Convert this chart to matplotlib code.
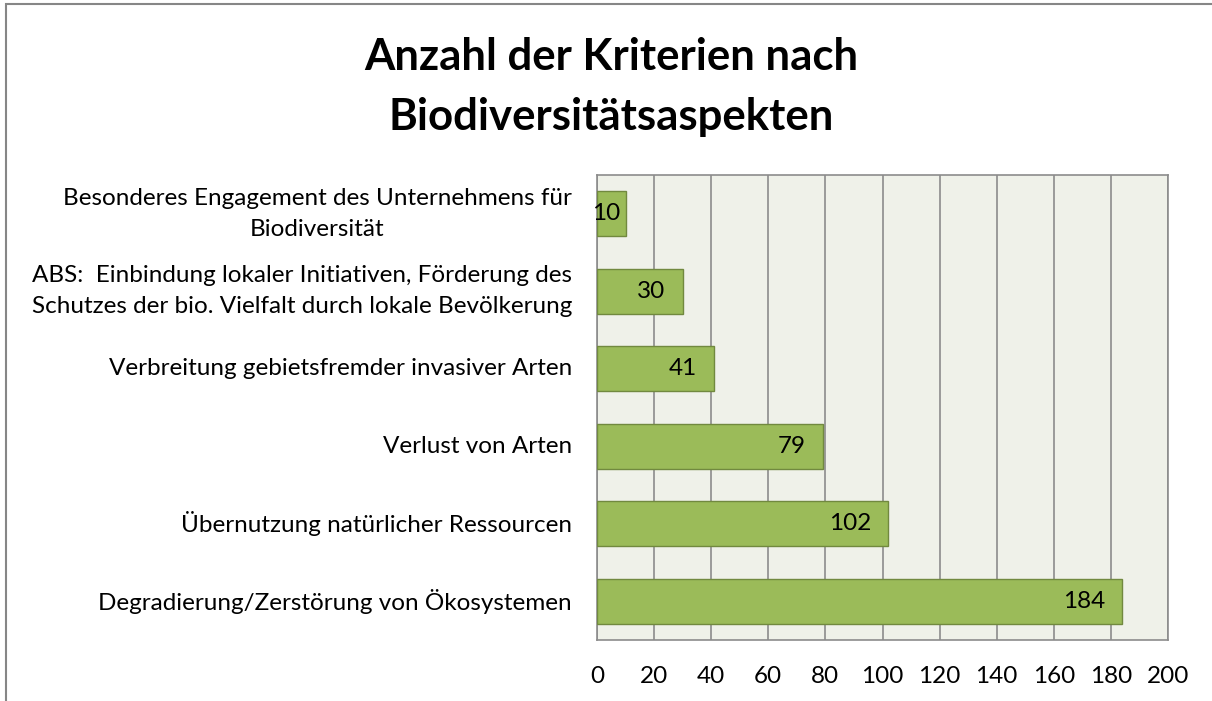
import matplotlib.pyplot as plt
from matplotlib.patches import Rectangle
from matplotlib.transforms import ScaledTranslation

categories = [
    "Degradierung/Zerstörung von Ökosystemen",
    "Übernutzung natürlicher Ressourcen",
    "Verlust von Arten",
    "Verbreitung gebietsfremder invasiver Arten",
    "ABS:  Einbindung lokaler Initiativen, Förderung des\nSchutzes der bio. Vielfalt durch lokale Bevölkerung",
    "Besonderes Engagement des Unternehmens für\nBiodiversität",
]
values = [184, 102, 79, 41, 30, 10]
xticks = [0, 20, 40, 60, 80, 100, 120, 140, 160, 180, 200]

plt.rcParams['font.family'] = ['Lato', 'DejaVu Sans']

fig = plt.figure(figsize=(12.12, 7.01), dpi=100)
ax = fig.add_axes([597 / 1212, 1 - 640 / 701, 571 / 1212, 465 / 701])

# outer chart border
fig.patches.append(Rectangle((6 / 1212, -0.01), 1.2, (697 + 7) / 701, transform=fig.transFigure,
                             fill=False, edgecolor='#868686', linewidth=1.5))

ax.set_facecolor('#EFF1E9')
ax.barh(range(len(values)), values, height=0.58, color='#9BBB59', edgecolor='#71893F',
        linewidth=1, zorder=3)

ax.set_xlim(0, 200)
ax.set_ylim(-0.5, len(values) - 0.5)
ax.set_xticks(xticks)
ax.set_xticklabels([str(t) for t in xticks])
ax.set_yticks(range(len(categories)))
ax.set_yticklabels([])
ax.tick_params(axis='y', length=0)
ax.tick_params(axis='x', length=0, labelsize=17.5, pad=19)

# category labels drawn by hand so the line spacing can be set
lab_tr = ax.get_yaxis_transform() + ScaledTranslation(-25 / 100, 0, fig.dpi_scale_trans)
for i, c in enumerate(categories):
    ax.text(0, i, c, transform=lab_tr, ha='right', va='center', multialignment='center',
            fontsize=17.5, linespacing=1.58)

ax.grid(axis='x', color='#8C8C8C', linewidth=1.2, zorder=1)
for s in ax.spines.values():
    s.set_color('#8C8C8C')
    s.set_linewidth(1.2)

for i, v in enumerate(values):
    if v < 15:
        ax.annotate(str(v), (0, i), xytext=(-5, 0), textcoords='offset pixels',
                    ha='left', va='center', fontsize=17.5, zorder=4)
    else:
        ax.annotate(str(v), (v, i), xytext=(-17, 0), textcoords='offset pixels',
                    ha='right', va='center', fontsize=17.5, zorder=4)

fig.text(611 / 1212, 1 - 87 / 701, "Anzahl der Kriterien nach\nBiodiversitätsaspekten",
         ha='center', va='center', fontsize=31.5, fontweight='bold', linespacing=1.62)

fig.savefig('out.png', dpi=100)
